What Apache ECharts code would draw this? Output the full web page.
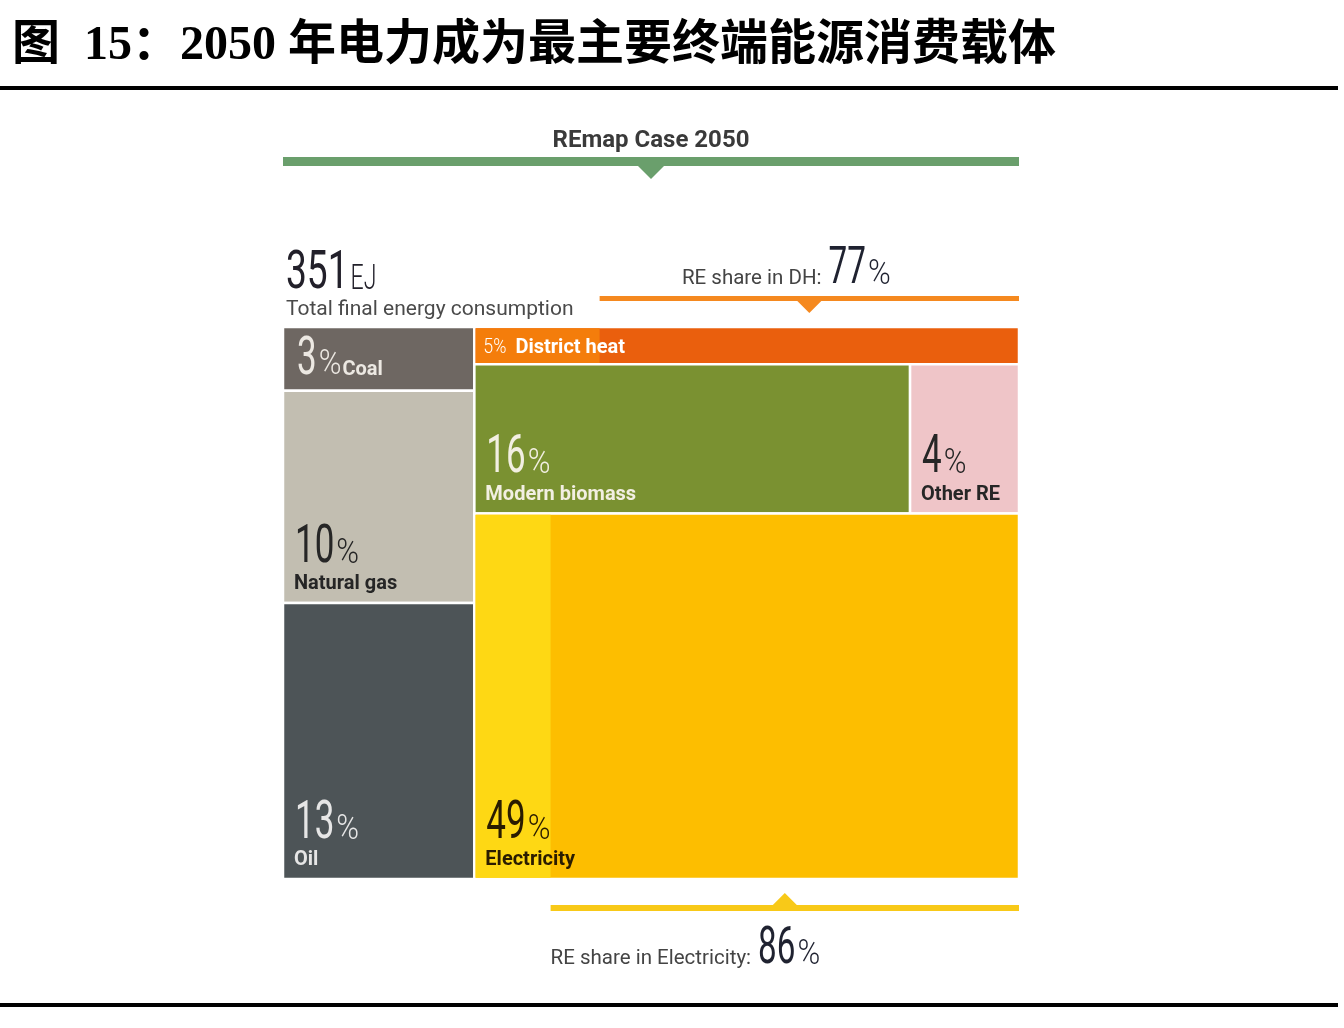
<!DOCTYPE html>
<html>
<head>
<meta charset="utf-8">
<title>2050年电力成为最主要终端能源消费载体</title>
<script src="https://cdn.jsdelivr.net/npm/echarts@6/dist/echarts.min.js"></script>
<style>
html, body { margin: 0; padding: 0; background: #fff; }
#main { width: 1344px; height: 1028px; }
</style>
</head>
<body>
<div id="main"></div>
<script>
var titleText = '图  15：2050 年电力成为最主要终端能源消费载体';
var caseName = 'REmap Case 2050';
var totalEnergy = 351;
var totalUnit = 'EJ';
var totalLabel = 'Total final energy consumption';

var categories = ['Coal', 'Natural gas', 'Oil', 'District heat', 'Modern biomass', 'Other RE', 'Electricity'];
var shares = [3, 10, 13, 5, 16, 4, 49];
// 0 = fossil column on the left, 1..3 = rows of the right column
var groups = [0, 0, 0, 1, 2, 2, 3];

var reShareDH = 77;
var reShareElectricity = 86;

var colors = ['#6e6762', '#c2beb1', '#4d5457', '#ea5f0d', '#7a9131', '#efc5c8', '#fdbe00'];
var lightColors = { 3: '#f47d0b', 6: '#fed814' };
var textColors = ['#ece8e2', '#262626', '#e6e6e6', '#ffffff', '#f2efe2', '#262626', '#2a1c00'];

var labelFont = "Roboto, 'Open Sans', sans-serif";
var numFont = "Roboto, sans-serif";

// ---- layout: areas proportional to shares
var leftSum = 0, rightSum = 0;
shares.forEach(function (v, i) { if (groups[i] === 0) leftSum += v; else rightSum += v; });
var splitX = leftSum / (leftSum + rightSum) * 100;

var cells = [];
var yCur = 0;
shares.forEach(function (v, i) {
    if (groups[i] !== 0) return;
    var h = v / leftSum * 100;
    cells.push({ name: categories[i], value: [0, yCur, splitX, yCur + h, i] });
    yCur += h;
});
var rowTop = 0;
[1, 2, 3].forEach(function (g) {
    var members = [], rowSum = 0;
    shares.forEach(function (v, i) { if (groups[i] === g) { members.push(i); rowSum += v; } });
    var h = rowSum / rightSum * 100;
    var x = splitX;
    members.forEach(function (i) {
        var w = shares[i] / rowSum * (100 - splitX);
        cells.push({ name: categories[i], value: [x, rowTop, x + w, rowTop + h, i] });
        x += w;
    });
    rowTop += h;
});

var reShare = { 3: reShareDH, 6: reShareElectricity };

function cellOf(idx) {
    return cells.filter(function (c) { return c.value[4] === idx; })[0].value;
}
var dh = cellOf(3), el = cellOf(6);
var brackets = [
    { value: [0, 100, 0] },
    { value: [dh[0] + (dh[2] - dh[0]) * (1 - reShareDH / 100), dh[2], 1] },
    { value: [el[0] + (el[2] - el[0]) * (1 - reShareElectricity / 100), el[2], 2] }
];

// ---- text runs placed on a baseline, pieces laid out left to right
var measureCtx = document.createElement('canvas').getContext('2d');
function fontOf(p) {
    return (p.weight || 'normal') + ' ' + p.size + 'px ' + (p.family || labelFont);
}
function run(x, baseline, pieces) {
    var els = [];
    pieces.forEach(function (p) {
        x += p.gap || 0;
        var sx = p.scaleX || 1;
        els.push({
            type: 'text', x: x, y: baseline - 0.29 * p.size, scaleX: sx, originX: 0, originY: 0,
            style: {
                text: p.text, fontSize: p.size, fontWeight: p.weight || 'normal',
                fontFamily: p.family || labelFont, fill: p.fill, align: 'left', verticalAlign: 'middle'
            }
        });
        measureCtx.font = fontOf(p);
        x += measureCtx.measureText(p.text).width * sx;
    });
    return els;
}
function runWidth(pieces) {
    var w = 0;
    pieces.forEach(function (p) {
        measureCtx.font = fontOf(p);
        w += (p.gap || 0) + measureCtx.measureText(p.text).width * (p.scaleX || 1);
    });
    return w;
}
function bigNumber(v, fill) {
    return [
        { text: String(v), size: 53, weight: 400, family: numFont, scaleX: 0.66, fill: fill },
        { text: '%', size: 35, weight: 300, family: numFont, scaleX: 0.88, fill: fill, gap: 2 }
    ];
}

function renderCell(params, api) {
    var i = api.value(4);
    var x0 = api.value(0), x1 = api.value(2);
    var p0 = api.coord([x0, api.value(1)]);
    var p1 = api.coord([x1, api.value(3)]);
    var w = p1[0] - p0[0], h = p1[1] - p0[1];
    var children = [{
        type: 'rect',
        shape: { x: p0[0], y: p0[1], width: w, height: h },
        style: { fill: colors[i], stroke: '#fff', lineWidth: 2.5 }
    }];
    if (reShare[i] != null) {
        var xs = api.coord([x0 + (x1 - x0) * (1 - reShare[i] / 100), 0])[0];
        children.push({
            type: 'rect',
            shape: { x: p0[0] + 1.25, y: p0[1] + 1.25, width: xs - p0[0] - 1.25, height: h - 2.5 },
            style: { fill: lightColors[i] }
        });
    }
    var fill = textColors[i];
    var name = categories[i];
    var texts;
    if (h < 40) {
        texts = run(p0[0] + 9, p0[1] + h / 2 + 8, [
            { text: shares[i] + '%', size: 21, weight: 300, family: numFont, scaleX: 0.85, fill: fill },
            { text: name, size: 20, weight: 'bold', fill: fill, gap: 9 }
        ]);
    } else if (h < 80) {
        texts = run(p0[0] + 14, p0[1] + h / 2 + 17,
            bigNumber(shares[i], fill).concat([{ text: name, size: 20, weight: 'bold', fill: fill, gap: 1 }]));
    } else {
        texts = run(p0[0] + 12, p1[1] - 39, bigNumber(shares[i], fill))
            .concat(run(p0[0] + 11, p1[1] - 13, [{ text: name, size: 20, weight: 'bold', fill: fill }]));
    }
    return { type: 'group', children: children.concat(texts) };
}

var bracketColors = ['#6a9f6c', '#f5891f', '#f8c918'];
var annoText = '#444444', annoNum = '#1f2230';

function shareRun(label, v) {
    return [
        { text: label, size: 20.5, fill: annoText },
        { text: String(v), size: 52, weight: 400, family: numFont, scaleX: 0.64, fill: annoNum, gap: 7 },
        { text: '%', size: 35, weight: 300, family: numFont, scaleX: 0.88, fill: annoNum, gap: 2 }
    ];
}

function renderBracket(params, api) {
    var kind = api.value(2);
    var a = api.coord([api.value(0), 0]);
    var b = api.coord([api.value(1), 100]);
    var top = a[1], bottom = b[1];
    var xa = a[0], xb = b[0], xc = (xa + xb) / 2;
    var c = bracketColors[kind];
    var ch = [];
    if (kind === 0) {
        ch.push({ type: 'rect', shape: { x: xa, y: top - 170, width: xb - xa, height: 9 }, style: { fill: c } });
        ch.push({ type: 'polygon', shape: { points: [[xc - 14, top - 162], [xc + 14, top - 162], [xc, top - 148]] }, style: { fill: c } });
        ch.push({
            type: 'text', x: xc, y: top - 186,
            style: { text: caseName, fontFamily: labelFont, fontWeight: 'bold', fontSize: 24, fill: '#3a3a3a', align: 'center', verticalAlign: 'middle' }
        });
        ch = ch.concat(run(xa + 3, top - 37, [
            { text: String(totalEnergy), size: 53, weight: 400, family: numFont, scaleX: 0.7, fill: '#22202a' },
            { text: totalUnit, size: 35, weight: 300, family: numFont, scaleX: 0.66, fill: '#22202a', gap: 2 }
        ]));
        ch = ch.concat(run(xa + 3, top - 11, [{ text: totalLabel, size: 21, fill: '#4a4a4a' }]));
    } else if (kind === 1) {
        ch.push({ type: 'rect', shape: { x: xa, y: top - 31, width: xb - xa, height: 5 }, style: { fill: c } });
        ch.push({ type: 'polygon', shape: { points: [[xc - 13, top - 27], [xc + 13, top - 27], [xc, top - 14]] }, style: { fill: c } });
        var pcs = shareRun('RE share in DH:', reShareDH);
        ch = ch.concat(run(xc - 23 - runWidth(pcs) / 2, top - 42, pcs));
    } else {
        ch.push({ type: 'rect', shape: { x: xa, y: bottom + 26, width: xb - xa, height: 6 }, style: { fill: c } });
        ch.push({ type: 'polygon', shape: { points: [[xc - 13, bottom + 27], [xc + 13, bottom + 27], [xc, bottom + 14]] }, style: { fill: c } });
        ch = ch.concat(run(xa, bottom + 86, shareRun('RE share in Electricity:', reShareElectricity)));
    }
    return { type: 'group', children: ch };
}

var chart = echarts.init(document.getElementById('main'));
chart.setOption({
    backgroundColor: '#ffffff',
    animation: false,
    grid: { left: 283, right: 325, top: 327, bottom: 149 },
    xAxis: { type: 'value', min: 0, max: 100, show: false },
    yAxis: { type: 'value', min: 0, max: 100, inverse: true, show: false },
    graphic: [
        {
            type: 'text', left: 12, top: 23,
            style: { text: titleText, font: "bold 48px 'Liberation Serif', 'Noto Sans CJK SC', serif", fill: '#000' }
        },
        { type: 'rect', left: 0, top: 86, shape: { width: 1338, height: 4 }, style: { fill: '#000' } },
        { type: 'rect', left: 0, top: 1003, shape: { width: 1338, height: 4 }, style: { fill: '#000' } }
    ],
    series: [
        { type: 'custom', renderItem: renderCell, data: cells, silent: true },
        { type: 'custom', renderItem: renderBracket, data: brackets, silent: true }
    ]
});
</script>
</body>
</html>
